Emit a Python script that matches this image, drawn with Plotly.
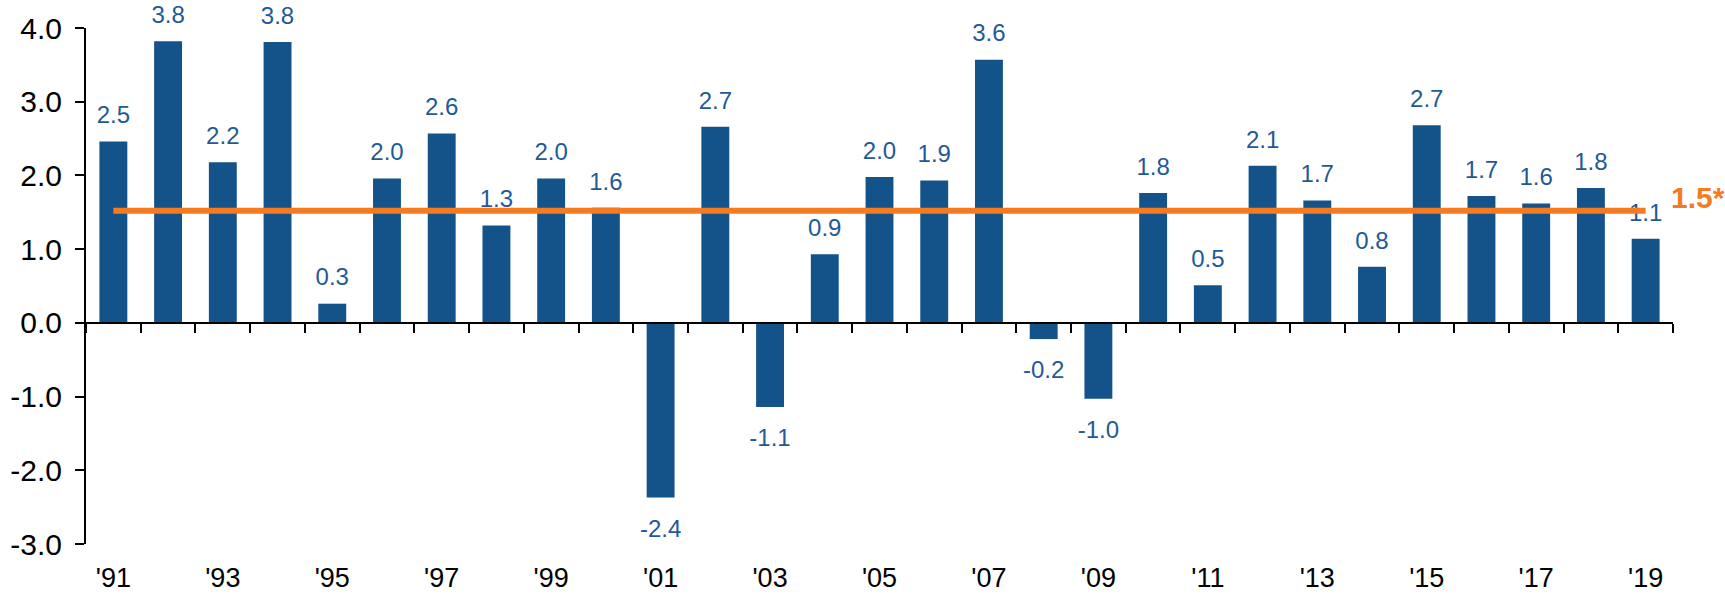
import plotly.graph_objects as go

# ---------------- data ----------------
years = list(range(1991, 2020))
gdp_growth = [2.46, 3.82, 2.18, 3.81, 0.26, 1.96, 2.57, 1.32, 1.96, 1.56,
              -2.37, 2.66, -1.14, 0.93, 1.98, 1.93, 3.57, -0.22, -1.03, 1.76,
              0.51, 2.13, 1.66, 0.76, 2.68, 1.72, 1.62, 1.83, 1.14]
year_labels = ["'91", "", "'93", "", "'95", "", "'97", "", "'99", "",
               "'01", "", "'03", "", "'05", "", "'07", "", "'09", "",
               "'11", "", "'13", "", "'15", "", "'17", "", "'19"]
y_tick_values = [-3, -2, -1, 0, 1, 2, 3, 4]
y_tick_labels = ["-3.0", "-2.0", "-1.0", "0.0", "1.0", "2.0", "3.0", "4.0"]
average_value = 1.52
average_label = "1.5*"

# ---------------- style ----------------
BAR = "#14538A"
LABEL = "#1F5A96"
ORANGE = "#F47B20"
y_min, y_max = -3, 4

pos_x = [y for y, v in zip(years, gdp_growth) if v >= 0]
pos_v = [v for v in gdp_growth if v >= 0]
neg_x = [y for y, v in zip(years, gdp_growth) if v < 0]
neg_v = [v for v in gdp_growth if v < 0]

fig = go.Figure()
fig.add_trace(go.Bar(x=years, y=gdp_growth, marker=dict(color=BAR, line=dict(width=0)),
                     hoverinfo="skip", showlegend=False))

fig.add_trace(go.Scatter(x=pos_x, y=pos_v, mode="markers+text",
                         text=[f"{v:.1f}" for v in pos_v], textposition="top center",
                         marker=dict(size=[18] * len(pos_v), opacity=0, color=BAR),
                         textfont=dict(family="Liberation Sans, Arial", size=24, color=LABEL),
                         cliponaxis=False, hoverinfo="skip", showlegend=False))
fig.add_trace(go.Scatter(x=neg_x, y=neg_v, mode="markers+text",
                         text=[f"{v:.1f}" for v in neg_v], textposition="bottom center",
                         marker=dict(size=[32] * len(neg_v), opacity=0, color=BAR),
                         textfont=dict(family="Liberation Sans, Arial", size=24, color=LABEL),
                         cliponaxis=False, hoverinfo="skip", showlegend=False))

fig.add_trace(go.Scatter(x=[years[0], years[-1]], y=[average_value, average_value],
                         mode="lines", line=dict(color=ORANGE, width=6),
                         hoverinfo="skip", showlegend=False))

# invisible trace to carry the zero-line axis
fig.add_trace(go.Scatter(x=years, y=gdp_growth, xaxis="x2", mode="markers",
                         marker=dict(opacity=0), hoverinfo="skip", showlegend=False))

fig.add_annotation(x=1, xref="paper", xanchor="left", xshift=-4, y=average_value, yref="y",
                   yanchor="middle", yshift=13, text=f"<b>{average_label}</b>",
                   showarrow=False, font=dict(family="Liberation Sans, Arial", size=30, color=ORANGE))

cat_range = [-0.5, len(years) - 0.5]
fig.update_layout(
    template="none",
    width=1725, height=596,
    margin=dict(l=86, r=52, t=28, b=52, autoexpand=False),
    paper_bgcolor="white", plot_bgcolor="white",
    bargap=0.49,
    showlegend=False,
    xaxis=dict(type="category", categoryorder="array", categoryarray=years,
               range=cat_range, tickvals=years, ticktext=year_labels, automargin=False,
               showline=False, ticks="", showgrid=False, zeroline=False,
               ticklabelstandoff=15,
               tickfont=dict(family="Liberation Sans Narrow, Arial Narrow, Liberation Sans", size=27, color="black")),
    xaxis2=dict(type="category", categoryorder="array", categoryarray=years,
                range=cat_range, overlaying="x", anchor="free", automargin=False,
                position=(0 - y_min) / (y_max - y_min),
                showline=True, linecolor="black", linewidth=2,
                ticks="outside", ticklen=9, tickwidth=2, tickcolor="black",
                tickson="boundaries", showticklabels=False, showgrid=False, zeroline=False),
    yaxis=dict(range=[y_min, y_max], tickvals=y_tick_values, ticktext=y_tick_labels,
               automargin=False,
               showline=True, linecolor="black", linewidth=2,
               ticks="outside", ticklen=9, tickwidth=2, tickcolor="black",
               ticklabelstandoff=7, showgrid=False, zeroline=False,
               tickfont=dict(family="Liberation Sans, Arial", size=30, color="black")),
)

fig.write_html("out.html", config={"displayModeBar": False},
               post_script="document.body.style.margin='0';")
